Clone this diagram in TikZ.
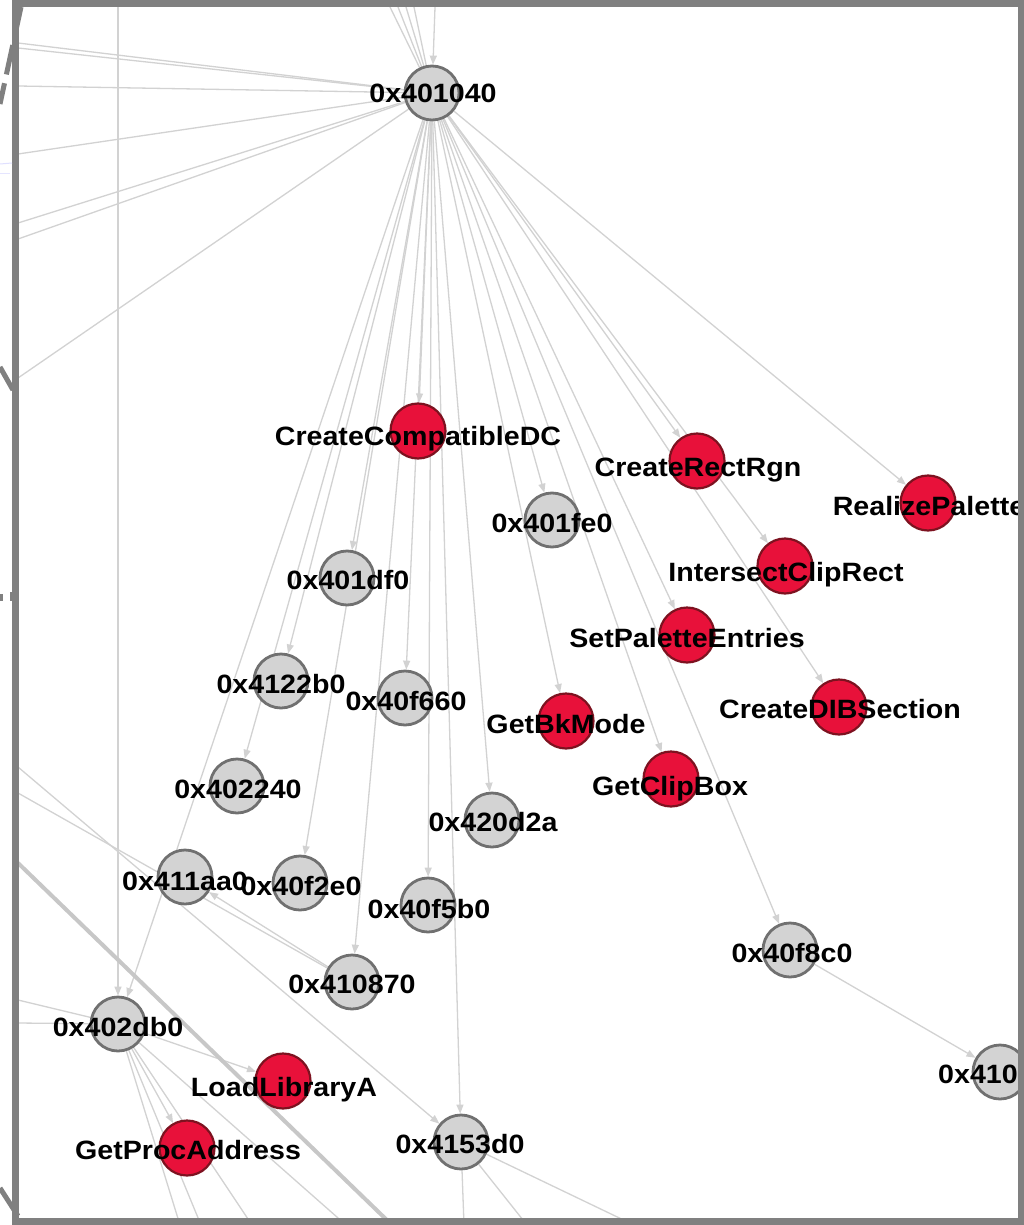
\documentclass[tikz,border=0pt]{standalone}
\usepackage{fontspec}
\newfontfamily\lblfont{Liberation Sans}[FakeStretch=1.08]
\usetikzlibrary{arrows.meta}
\definecolor{edgec}{RGB}{210,210,210}
\definecolor{gfill}{RGB}{211,211,211}
\definecolor{gdraw}{RGB}{112,112,112}
\definecolor{rfill}{RGB}{232,17,58}
\definecolor{rdraw}{RGB}{125,18,32}
\definecolor{framec}{RGB}{128,128,128}
\pgfdeclarelayer{bg}
\pgfsetlayers{bg,main}
\tikzset{
 gnode/.style={circle, fill=gfill, draw=gdraw, line width=2.8pt, minimum size=54pt, inner sep=0pt},
 rnode/.style={circle, fill=rfill, draw=rdraw, line width=2.2pt, minimum size=55pt, inner sep=0pt},
 lbl/.style={font=\lblfont\bfseries\fontsize{26.5}{30}\selectfont, text=black, anchor=base, inner sep=0pt},
 conn/.style={draw=edgec, line width=1.3pt},
 arr/.style={conn, -{Triangle[length=9pt,width=7pt]}},
 thickconn/.style={draw=edgec!95!black, line width=4pt},
 framestyle/.style={draw=framec, line width=7pt},
}
\begin{document}
\begin{tikzpicture}[x=1pt,y=-1pt]
\useasboundingbox (0,0) rectangle (1024,1225);
\clip (0,0) rectangle (1024,1225);
\begin{pgfonlayer}{bg}
\fill[white] (0,0) rectangle (1024,1225);
\end{pgfonlayer}

% gray nodes
\node[gnode] (h) at (432,93) {};
\node[gnode] (a401fe0) at (552,520) {};
\node[gnode] (a401df0) at (347,578) {};
\node[gnode] (a4122b0) at (281,681) {};
\node[gnode] (a40f660) at (405,698) {};
\node[gnode] (a402240) at (237,786) {};
\node[gnode] (a420d2a) at (492,820) {};
\node[gnode] (a411aa0) at (185,877) {};
\node[gnode] (a40f2e0) at (300,883) {};
\node[gnode] (a40f5b0) at (428,905) {};
\node[gnode] (a410870) at (352,982) {};
\node[gnode] (a402db0) at (118,1024) {};
\node[gnode] (a4153d0) at (461,1142) {};
\node[gnode] (a40f8c0) at (790,950) {};
\node[gnode] (a410) at (1000,1072) {};
\node[gnode] (abot) at (702,1247) {};
% red nodes
\node[rnode] (cdc) at (418,431) {};
\node[rnode] (crr) at (697,461) {};
\node[rnode] (rp) at (928,503) {};
\node[rnode] (icr) at (785,566) {};
\node[rnode] (spe) at (687,635) {};
\node[rnode] (gbm) at (566,721) {};
\node[rnode] (dib) at (839,707) {};
\node[rnode] (gcb) at (671,779) {};
\node[rnode] (lla) at (283,1081) {};
\node[rnode] (gpa) at (187,1148) {};

% labels
\node[lbl] (lh) at (433,103) {0x401040};
\node[lbl] (l401fe0) at (552,532) {0x401fe0};
\node[lbl] (l401df0) at (348,589) {0x401df0};
\node[lbl] (l4122b0) at (281,693) {0x4122b0};
\node[lbl] (l40f660) at (406,710) {0x40f660};
\node[lbl] (l402240) at (238,798) {0x402240};
\node[lbl] (l420d2a) at (493,831) {0x420d2a};
\node[lbl] (l411aa0) at (185,890) {0x411aa0};
\node[lbl] (l40f2e0) at (301,895) {0x40f2e0};
\node[lbl] (l40f5b0) at (429,918) {0x40f5b0};
\node[lbl] (l410870) at (352,993) {0x410870};
\node[lbl] (l402db0) at (118,1036) {0x402db0};
\node[lbl] (l4153d0) at (460,1153) {0x4153d0};
\node[lbl] (l40f8c0) at (792,962) {0x40f8c0};
\node[lbl, anchor=base west] (l410) at (938,1083) {0x410};
\node[lbl] (lcdc) at (418,445) {CreateCompatibleDC};
\node[lbl] (lcrr) at (698,476) {CreateRectRgn};
\node[lbl] (lrp) at (929,515) {RealizePalette};
\node[lbl] (licr) at (786,581) {IntersectClipRect};
\node[lbl] (lspe) at (687,647) {SetPaletteEntries};
\node[lbl] (lgbm) at (566,733) {GetBkMode};
\node[lbl] (ldib) at (840,718) {CreateDIBSection};
\node[lbl] (lgcb) at (670,795) {GetClipBox};
\node[lbl] (llla) at (284,1096) {LoadLibraryA};
\node[lbl] (lgpa) at (188,1159) {GetProcAddress};

% free ends
\coordinate (L1) at (18,43);
\coordinate (L2) at (18,48);
\coordinate (L3) at (18,86);
\coordinate (L4) at (18,154);
\coordinate (L5) at (18,223);
\coordinate (L6) at (18,239);
\coordinate (L7) at (18,378);
\coordinate (T1) at (390,7);
\coordinate (T2) at (398,7);
\coordinate (T3) at (406,7);
\coordinate (T4) at (414,7);
\coordinate (T5) at (435,7);
\coordinate (T6) at (118,0);
\coordinate (L8) at (18,767);
\coordinate (L9) at (18,793);
\coordinate (L10) at (18,863);
\coordinate (L11) at (18,1000);
\coordinate (L12) at (18,1023);
\coordinate (B1) at (180,1225);
\coordinate (B2) at (201,1225);
\coordinate (B3) at (252,1225);
\coordinate (B4) at (346,1225);
\coordinate (B5) at (392,1225);
\coordinate (B6) at (464,1225);
\coordinate (B7) at (527,1225);
\coordinate (B8) at (634,1225);

\begin{pgfonlayer}{bg}
\foreach \s in {L1,L2,L3,L4,L5,L6,L7,T1,T2,T3,T4}{\draw[conn] (\s) -- (h);}
\draw[arr] (T5) -- (h);
\draw[arr] (T6) -- (a402db0);
\foreach \t in {cdc,crr,rp,icr,spe,gbm,dib,gcb,a401fe0,a401df0,a4122b0,a40f660,a402240,a420d2a,a40f2e0,a40f5b0,a410870,a402db0,a4153d0,a40f8c0}{\draw[arr] (h) -- (\t);}
\draw[arr] (a40f8c0) -- (a410);
\draw[arr] (a410870) -- (a411aa0);
\draw[arr] (a402db0) -- (lla);
\draw[arr] (a402db0) -- (gpa);
\draw[arr] (L8) -- (a4153d0);
\draw[conn] (L9) -- (a410870);
\draw[thickconn] (L10) -- (B5);
\draw[conn] (L11) -- (a402db0);
\draw[conn] (L12) -- (a402db0);
\foreach \b in {B1,B2,B3,B4}{\draw[conn] (a402db0) -- (\b);}
\foreach \b in {B6,B7,B8}{\draw[conn] (a4153d0) -- (\b);}
\end{pgfonlayer}

% frame and outside marks
\draw[framestyle] (15.5,3.5) rectangle (1021.5,1221.5);
\draw[draw=framec, line width=5pt, dash pattern=on 30pt off 9pt] (21,7) -- (0,104);
\draw[draw=framec, line width=5pt] (0,367) -- (13,390);
\draw[draw=framec, line width=5pt] (0,1188) -- (18,1216);
\fill[framec] (0,594) rectangle (3,601);
\fill[framec] (10,592) rectangle (13,601);
\draw[blue!12, line width=1pt] (0,164) -- (12,163);
\draw[blue!10, line width=1pt] (0,174) -- (10,174);
\end{tikzpicture}
\end{document}
